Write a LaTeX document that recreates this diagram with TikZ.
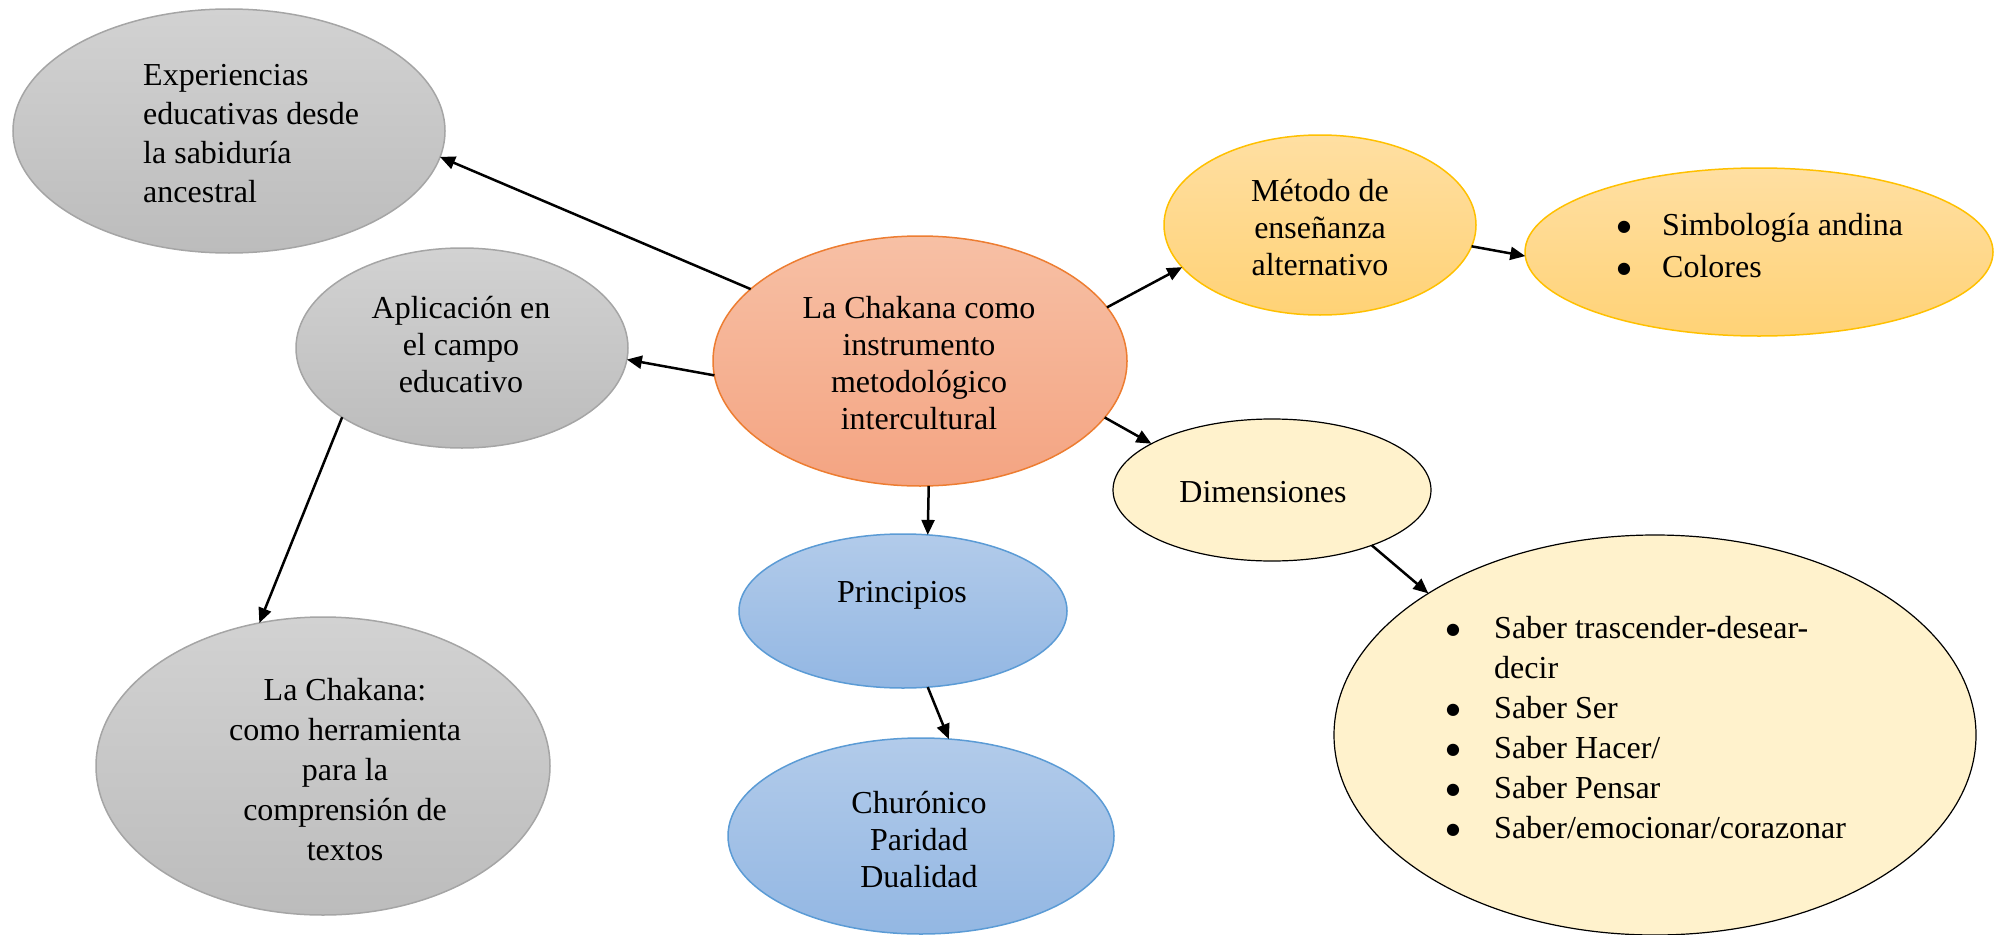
\documentclass[tikz,border=0pt]{standalone}
\usepackage{fontspec}
\setmainfont{Liberation Serif}
\newfontfamily\bulfont{DejaVu Sans}
\usetikzlibrary{shapes.geometric,arrows.meta}
\definecolor{graytop}{HTML}{D2D2D2}
\definecolor{graybot}{HTML}{BCBCBC}
\definecolor{grayline}{HTML}{A5A5A5}
\definecolor{orgtop}{HTML}{F7C0A5}
\definecolor{orgbot}{HTML}{F4A482}
\definecolor{orgline}{HTML}{ED7D31}
\definecolor{bluetop}{HTML}{B2CBEA}
\definecolor{bluebot}{HTML}{93B7E3}
\definecolor{blueline}{HTML}{5B9BD5}
\definecolor{goldtop}{HTML}{FFDFA2}
\definecolor{goldbot}{HTML}{FFD276}
\definecolor{goldline}{HTML}{FFC000}
\definecolor{cream}{HTML}{FFF2CC}
\newcommand\bulitem[1]{\makebox[41pt][l]{\hspace*{#1}\raisebox{4.5pt}{\bulfont\fontsize{16}{18}\selectfont ●}}}
\tikzset{
  bub/.style={ellipse, inner sep=0pt, outer sep=0pt, line width=1.5pt},
  grayb/.style={bub, draw=grayline, top color=graytop, bottom color=graybot},
  orgb/.style={bub, draw=orgline, top color=orgtop, bottom color=orgbot},
  blueb/.style={bub, draw=blueline, top color=bluetop, bottom color=bluebot},
  goldb/.style={bub, draw=goldline, top color=goldtop, bottom color=goldbot},
  creamb/.style={bub, draw=black, line width=1.2pt, fill=cream},
  txt/.style={inner sep=0pt, font=\fontsize{32}{37}\selectfont},
  arr/.style={line width=2.5pt, -{Triangle[length=15pt,width=13pt]}},
}
\begin{document}
\begin{tikzpicture}[x=1pt,y=-1pt]
\useasboundingbox (0,0) rectangle (1999,934);
% ellipses
\node[grayb, minimum width=432pt, minimum height=244pt] (exp) at (229,131) {};
\node[grayb, minimum width=332pt, minimum height=200pt] (apl) at (462,348) {};
\node[grayb, minimum width=454pt, minimum height=298pt] (her) at (323,766) {};
\node[orgb, minimum width=414pt, minimum height=250pt] (cen) at (920,361) {};
\node[blueb, minimum width=328pt, minimum height=154pt] (pri) at (903,611) {};
\node[blueb, minimum width=386pt, minimum height=196pt] (chu) at (921,836) {};
\node[goldb, minimum width=312pt, minimum height=180pt] (met) at (1320,225) {};
\node[goldb, minimum width=468pt, minimum height=168pt] (sim) at (1759,252) {};
\node[creamb, minimum width=318pt, minimum height=142pt] (dim) at (1272,490) {};
\node[creamb, minimum width=642pt, minimum height=400pt] (sab) at (1655,735) {};
% texts
\node[txt, anchor=west, align=left, font=\fontsize{32}{39}\selectfont] (texp) at (143,134) {Experiencias\\educativas desde\\la sabiduría\\ancestral};
\node[txt, align=center] (tapl) at (461,345) {Aplicación en\\el campo\\educativo};
\node[txt, align=center, font=\fontsize{32}{40}\selectfont] (ther) at (345,770) {La Chakana:\\como herramienta\\para la\\comprensión de\\textos};
\node[txt, align=center] (tcen) at (919,363) {La Chakana como\\instrumento\\metodológico\\intercultural};
\node[txt] (tpri) at (902,595) {Principios};
\node[txt, align=center] (tchu) at (919,840) {Churónico\\Paridad\\Dualidad};
\node[txt, align=center] (tmet) at (1320,228) {Método de\\enseñanza\\alternativo};
\node[txt, anchor=west, align=left, font=\fontsize{32}{42}\selectfont] (tsim) at (1621,246) {\bulitem{-4pt}Simbología andina\\\bulitem{-4pt}Colores};
\node[txt, anchor=west, align=left, font=\fontsize{32}{40}\selectfont] (tsab) at (1453,728) {\bulitem{-7pt}Saber trascender-desear-\\\hspace*{41pt}decir\\\bulitem{-7pt}Saber Ser\\\bulitem{-7pt}Saber Hacer/\\\bulitem{-7pt}Saber Pensar\\\bulitem{-7pt}Saber/emocionar/corazonar};
\node[txt] (tdim) at (1263,492) {Dimensiones};
% arrows
\draw[arr] (cen.157) -- (exp.-7);
\draw[arr] (cen.184) -- (apl.-4);
\draw[arr] (apl.210) -- (her.114);
\draw[arr] (cen.274) -- (pri.72);
\draw[arr] (pri.-72) -- (chu.74);
\draw[arr] (cen.16) -- (met.197);
\draw[arr] (met.-8) -- (sim.181);
\draw[arr] (cen.-17) -- (dim.159);
\draw[arr] (dim.-29) -- (sab.148);
\end{tikzpicture}
\end{document}
